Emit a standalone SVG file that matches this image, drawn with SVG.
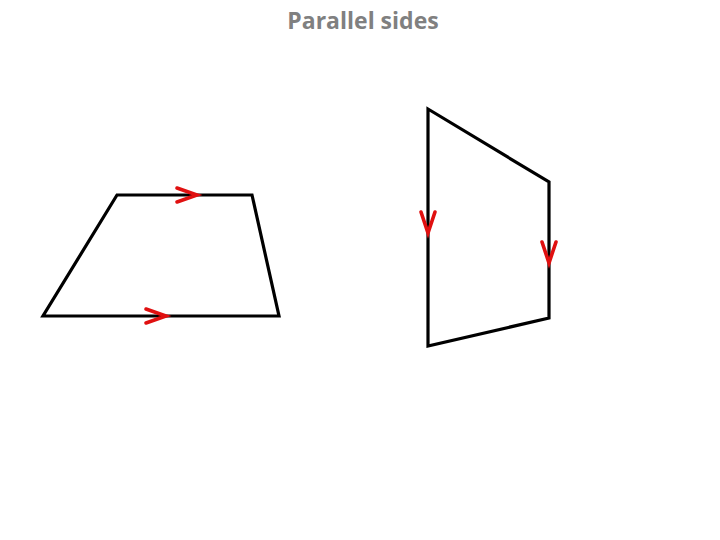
<svg xmlns="http://www.w3.org/2000/svg" width="720" height="540" viewBox="0 0 720 540">
<style>
.shape{fill:none;stroke:#000;stroke-width:3.2;stroke-linejoin:miter}
.arr{fill:none;stroke:#e01010;stroke-width:3.6;stroke-linecap:round;stroke-linejoin:miter}
.title{font-family:"Open Sans","Liberation Sans",sans-serif;font-weight:bold;font-size:23px;fill:#808080}
</style>
<rect width="720" height="540" fill="#fff"/>
<text class="title" x="363" y="29" text-anchor="middle">Parallel sides</text>
<g id="trapezoid">
<polygon class="shape" points="117,195 252,195 279,316 43,316"/>
</g>
<g id="quadrilateral">
<polygon class="shape" points="428,109 549,182 549,318 428,346"/>
</g>
<g id="connectors">
<polyline class="arr" points="177,188 197,195 177,202"/>
<polyline class="arr" points="146,309 166,316 146,323"/>
<polyline class="arr" points="421,212 428,233 435,212"/>
<polyline class="arr" points="542,242 549,263 556,242"/>
</g>
</svg>
